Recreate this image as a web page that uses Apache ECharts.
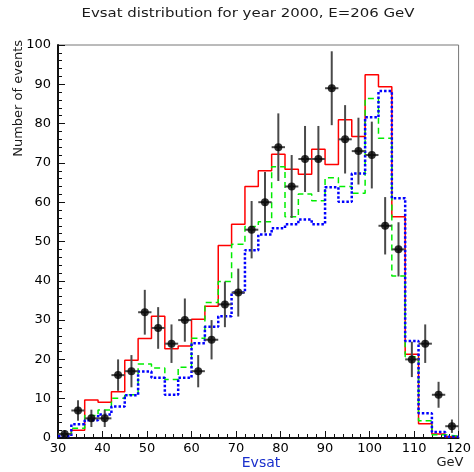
<!DOCTYPE html>
<html>
<head>
<meta charset="utf-8">
<script src="https://cdn.jsdelivr.net/npm/echarts@6/dist/echarts.min.js"></script>
<style>
  html, body { margin: 0; padding: 0; background: #fff; }
  #chart { width: 474px; height: 472px; }
</style>
</head>
<body>
<div id="chart"></div>
<script>
// Bin centres of the Evsat histogram (GeV), 3 GeV wide bins from 30 to 120
const binCenters = [31.5, 34.5, 37.5, 40.5, 43.5, 46.5, 49.5, 52.5, 55.5, 58.5,
                    61.5, 64.5, 67.5, 70.5, 73.5, 76.5, 79.5, 82.5, 85.5, 88.5,
                    91.5, 94.5, 97.5, 100.5, 103.5, 106.5, 109.5, 112.5, 115.5, 118.5];
const binHalfWidth = 1.5;

// Observed events per bin and their statistical errors
const dataCounts = [1, 7, 5, 5, 16, 17, 32, 28, 24, 30,
                    17, 25, 34, 37, 53, 60, 74, 64, 71, 71,
                    89, 76, 73, 72, 54, 48, 20, 24, 11, 3];
const dataErrors = [1.0, 2.6, 2.2, 2.2, 4.0, 4.1, 5.7, 5.3, 4.9, 5.5,
                    4.1, 5.0, 5.8, 6.1, 7.3, 7.7, 8.6, 8.0, 8.4, 8.4,
                    9.4, 8.7, 8.5, 8.5, 7.3, 6.9, 4.5, 4.9, 3.3, 1.7];

// Simulated expectations
const mcSolid = [1, 2, 9.7, 9.1, 11.8, 19.8, 25.3, 31, 22.7, 23.4,
                 30.2, 33.5, 49, 54.4, 64, 68, 72.2, 68.4, 67.1, 73.5,
                 69.6, 81, 76.7, 92.4, 89.4, 56.3, 21.3, 3.6, 1, 0.3];
const mcDashed = [1, 2.5, 5.7, 7.1, 10.1, 11, 18.8, 17.8, 14.9, 18,
                  25.4, 34.5, 39.8, 49.3, 53.8, 55, 69, 56.3, 62.1, 60.4,
                  66.2, 64, 62.3, 86.4, 76.3, 41.2, 20.7, 4.4, 0.8, 0.5];
const mcDotted = [0.5, 3.5, 4.5, 6, 8, 10.9, 16.9, 15.3, 11, 15.3,
                  24.1, 28.3, 31, 37, 47.8, 51.8, 53.4, 54.4, 55.6, 54.4,
                  63.8, 60.1, 67.3, 81.6, 88.3, 61, 24.7, 6.3, 1.5, 0.3];

const xTicks = { min: 30, max: 120, interval: 10 };
const yTicks = { min: 0, max: 100, interval: 10 };

const FONT = 'DejaVu Sans';

// Turn bin contents into step-line vertices along the bin edges
function histSteps(values) {
  const pts = binCenters.map((c, i) => [c - binHalfWidth, values[i]]);
  const last = binCenters.length - 1;
  pts.push([binCenters[last] + binHalfWidth, values[last]]);
  return pts;
}

function histSeries(values, color, width, dash, z) {
  return {
    type: 'line',
    step: 'end',
    data: histSteps(values),
    symbol: 'none',
    clip: true,
    z: z,
    lineStyle: { color: color, width: width, type: dash, cap: 'butt' }
  };
}

const chart = echarts.init(document.getElementById('chart'), null, { renderer: 'canvas' });

const axisCommon = {
  type: 'value',
  axisLine: { show: true, onZero: false, lineStyle: { color: '#111', width: 2 } },
  axisTick: { show: true, inside: true, length: 7, lineStyle: { color: '#111', width: 1 } },
  minorTick: { show: true, splitNumber: 5, length: 4, lineStyle: { color: '#111', width: 1 } },
  splitLine: { show: false },
  axisLabel: { color: '#000', fontSize: 13, fontFamily: FONT }
};

chart.setOption({
  animation: false,
  backgroundColor: '#fff',
  grid: { left: 58, right: 12, top: 45, bottom: 34, show: true, borderColor: '#777', borderWidth: 1 },
  xAxis: Object.assign({}, axisCommon, {
    min: xTicks.min, max: xTicks.max, interval: xTicks.interval,
    axisLabel: Object.assign({}, axisCommon.axisLabel, { margin: 4 })
  }),
  yAxis: Object.assign({}, axisCommon, {
    min: yTicks.min, max: yTicks.max, interval: yTicks.interval,
    axisLabel: Object.assign({}, axisCommon.axisLabel, { margin: 7 })
  }),
  series: [
    histSeries(mcSolid, '#ff0000', 1.5, 'solid', 2),
    histSeries(mcDashed, '#00ee00', 1.5, [6, 4], 3),
    histSeries(mcDotted, '#0000ff', 2.5, [2.5, 2], 4),
    {
      type: 'custom',
      z: 5,
      data: binCenters.map((c, i) => [c, dataCounts[i], dataErrors[i]]),
      encode: { x: 0, y: 1 },
      renderItem: function (params, api) {
        const x = api.value(0), y = api.value(1), e = api.value(2);
        const top = api.coord([x, y + e]);
        const bot = api.coord([x, y - e]);
        const l = api.coord([x - binHalfWidth, y]);
        const r = api.coord([x + binHalfWidth, y]);
        const st = { stroke: '#4a4a4a', lineWidth: 2 };
        return {
          type: 'group',
          children: [
            { type: 'line', shape: { x1: top[0], y1: top[1], x2: bot[0], y2: bot[1] }, style: st },
            { type: 'line', shape: { x1: l[0], y1: l[1], x2: r[0], y2: r[1] }, style: st }
          ]
        };
      }
    },
    {
      type: 'scatter',
      z: 6,
      data: binCenters.map((c, i) => [c, dataCounts[i]]),
      symbol: 'circle',
      symbolSize: 8,
      itemStyle: { color: '#000' }
    }
  ],
  graphic: [
    {
      type: 'text', x: 248, y: 14, scaleX: 1.15,
      style: { text: 'Evsat distribution for year 2000, E=206 GeV', fill: '#1a1a1a',
               font: '13px "' + FONT + '"', textAlign: 'center', textVerticalAlign: 'middle' }
    },
    {
      type: 'text', x: 19, y: 40, rotation: Math.PI / 2,
      style: { text: 'Number of events', fill: '#1a1a1a',
               font: '13px "' + FONT + '"', textAlign: 'right', textVerticalAlign: 'middle' }
    },
    {
      type: 'text', x: 261, y: 463,
      style: { text: 'Evsat', fill: '#1a2fcc',
               font: '14px "' + FONT + '"', textAlign: 'center', textVerticalAlign: 'middle' }
    },
    {
      type: 'text', x: 450, y: 463,
      style: { text: 'GeV', fill: '#1a1a1a',
               font: '13px "' + FONT + '"', textAlign: 'center', textVerticalAlign: 'middle' }
    }
  ]
});
</script>
</body>
</html>
